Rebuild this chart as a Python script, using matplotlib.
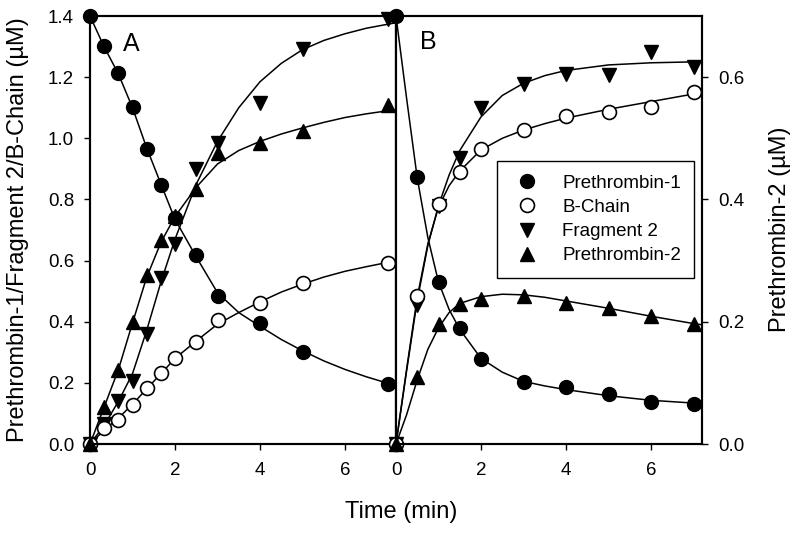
"""
Prethrombin-1 activation time course, panels A and B
"""

import matplotlib

matplotlib.use("Agg")
import matplotlib.pyplot as plt
from matplotlib.lines import Line2D

plt.rcParams["font.family"] = ["Liberation Sans", "DejaVu Sans"]

# ---- Panel A data (left axis, uM; Prethrombin-2 on right axis) ----
t_a = [0, 0.33, 0.67, 1, 1.33, 1.67, 2, 2.5, 3, 4, 5, 7]
p1_a = [1.4, 1.302, 1.215, 1.101, 0.965, 0.847, 0.740, 0.618, 0.484, 0.397, 0.302, 0.196]
bc_a = [0, 0.051, 0.079, 0.128, 0.182, 0.231, 0.282, 0.333, 0.406, 0.462, 0.528, 0.593]
f2_a = [0, 0.065, 0.141, 0.207, 0.359, 0.542, 0.654, 0.899, 0.986, 1.114, 1.291, 1.39]
p2_a = [0, 0.060, 0.121, 0.200, 0.277, 0.334, 0.373, 0.417, 0.476, 0.493, 0.512, 0.555]

# fitted curves, panel A
fit_t_a = [0, 0.33, 0.67, 1, 1.33, 1.67, 2, 2.5, 3, 3.5, 4, 4.5, 5, 5.5, 6, 6.5, 7, 7.2]
fit_p1_a = [1.4, 1.30, 1.21, 1.10, 0.97, 0.85, 0.735, 0.612, 0.495, 0.43, 0.385, 0.342,
            0.305, 0.272, 0.244, 0.22, 0.199, 0.192]
fit_bc_a = [0, 0.045, 0.085, 0.13, 0.18, 0.23, 0.28, 0.337, 0.392, 0.43, 0.465, 0.497,
            0.523, 0.546, 0.565, 0.58, 0.594, 0.60]
fit_f2_a = [0, 0.06, 0.14, 0.23, 0.37, 0.53, 0.67, 0.85, 0.99, 1.10, 1.185, 1.245,
            1.29, 1.32, 1.342, 1.36, 1.373, 1.378]
fit_p2_a = [0, 0.06, 0.122, 0.198, 0.272, 0.33, 0.372, 0.42, 0.458, 0.48, 0.495,
            0.507, 0.517, 0.526, 0.534, 0.54, 0.545, 0.547]

# ---- Panel B data ----
t_b = [0, 0.5, 1, 1.5, 2, 3, 4, 5, 6, 7]
p1_b = [1.4, 0.874, 0.529, 0.378, 0.277, 0.204, 0.188, 0.164, 0.138, 0.130]
bc_b = [0, 0.484, 0.785, 0.891, 0.964, 1.027, 1.073, 1.085, 1.103, 1.152]
f2_b = [0, 0.455, 0.780, 0.934, 1.098, 1.178, 1.210, 1.207, 1.283, 1.234]
p2_b = [0, 0.109, 0.196, 0.229, 0.238, 0.242, 0.231, 0.222, 0.209, 0.196]

fit_t_b = [0, 0.25, 0.5, 0.75, 1, 1.25, 1.5, 2, 2.5, 3, 3.5, 4, 5, 6, 7, 7.2]
fit_p1_b = [1.4, 1.13, 0.87, 0.675, 0.53, 0.44, 0.375, 0.28, 0.235, 0.205, 0.19,
            0.178, 0.158, 0.143, 0.134, 0.132]
fit_bc_b = [0, 0.245, 0.48, 0.655, 0.775, 0.845, 0.893, 0.962, 1.0, 1.027, 1.048,
            1.066, 1.095, 1.12, 1.145, 1.15]
fit_f2_b = [0, 0.24, 0.47, 0.65, 0.78, 0.88, 0.96, 1.07, 1.14, 1.18, 1.205,
            1.222, 1.24, 1.247, 1.25, 1.25]
fit_p2_b = [0, 0.048, 0.105, 0.155, 0.19, 0.215, 0.23, 0.241, 0.245, 0.244, 0.24,
            0.234, 0.222, 0.209, 0.197, 0.195]

labels = ["Prethrombin-1", "B-Chain", "Fragment 2", "Prethrombin-2"]
x_ticks = [0, 2, 4, 6]
left_ticks = [0.0, 0.2, 0.4, 0.6, 0.8, 1.0, 1.2, 1.4]
right_ticks = [0.0, 0.2, 0.4, 0.6]

MS = 10
LW = 1.1
TICK_FS = 13.5


def style_axis(ax):
    for sp in ax.spines.values():
        sp.set_linewidth(1.5)
    ax.tick_params(direction="out", length=4.5, width=1, labelsize=TICK_FS)
    ax.tick_params(axis="x", pad=8.5)
    ax.tick_params(axis="y", pad=7)


def draw_panel(ax, ax2, t, p1, bc, f2, p2, ft, fp1, fbc, ff2, fp2):
    # fitted curves
    ax.plot(ft, fp1, color="black", lw=LW, clip_on=False)
    ax.plot(ft, fbc, color="black", lw=LW, clip_on=False)
    ax.plot(ft, ff2, color="black", lw=LW, clip_on=False)
    ax2.plot(ft, fp2, color="black", lw=LW, clip_on=False)

    # measured points
    ax.plot(t, f2, "v", color="black", ms=MS, clip_on=False, zorder=3)
    ax2.plot(t, p2, "^", color="black", ms=MS, clip_on=False, zorder=3)
    ax.plot(t, bc, "o", mfc="white", mec="black", mew=1.2, ms=MS, clip_on=False, zorder=3)
    ax.plot(t, p1, "o", color="black", ms=MS, clip_on=False, zorder=3)

    ax.set_xlim(0, 7.2)
    ax.set_ylim(0, 1.4)
    ax2.set_ylim(0, 0.7)
    ax.set_xticks(x_ticks)


fig = plt.figure(figsize=(8, 5.34), dpi=100)

ax_a = fig.add_axes([0.1125, 0.1685, 0.3825, 0.8015])
ax_a2 = ax_a.twinx()
ax_b = fig.add_axes([0.495, 0.1685, 0.3825, 0.8015])
ax_b2 = ax_b.twinx()

draw_panel(ax_a, ax_a2, t_a, p1_a, bc_a, f2_a, p2_a,
           fit_t_a, fit_p1_a, fit_bc_a, fit_f2_a, fit_p2_a)
draw_panel(ax_b, ax_b2, t_b, p1_b, bc_b, f2_b, p2_b,
           fit_t_b, fit_p1_b, fit_bc_b, fit_f2_b, fit_p2_b)

for ax in (ax_a, ax_a2, ax_b, ax_b2):
    style_axis(ax)

ax_a.set_yticks(left_ticks)
ax_a.set_yticklabels([f"{v:.1f}" for v in left_ticks])
ax_a2.set_yticks([])
ax_b.set_yticks([])
ax_b2.set_yticks(right_ticks)
ax_b2.set_yticklabels([f"{v:.1f}" for v in right_ticks])

ax_a.text(0.135, 0.935, "A", transform=ax_a.transAxes, fontsize=18, ha="center", va="center")
ax_b.text(0.105, 0.94, "B", transform=ax_b.transAxes, fontsize=18, ha="center", va="center")

handles = [
    Line2D([], [], ls="none", marker="o", color="black", ms=MS),
    Line2D([], [], ls="none", marker="o", mfc="white", mec="black", mew=1.2, ms=MS),
    Line2D([], [], ls="none", marker="v", color="black", ms=MS),
    Line2D([], [], ls="none", marker="^", color="black", ms=MS),
]
leg = ax_b2.legend(handles, labels, loc="upper left", bbox_to_anchor=(0.33, 0.661),
                   borderaxespad=0, fontsize=13.5, frameon=True, fancybox=False,
                   framealpha=1, edgecolor="black", handlelength=1.8,
                   handletextpad=0.95, borderpad=0.72, labelspacing=0.38)
leg.get_frame().set_linewidth(1.0)

fig.text(0.022, 0.57, "Prethrombin-1/Fragment 2/B-Chain (\u00b5M)", rotation=90,
         ha="center", va="center", fontsize=17)
fig.text(0.975, 0.57, "Prethrombin-2 (\u00b5M)", rotation=90,
         ha="center", va="center", fontsize=17)
fig.text(0.501, 0.041, "Time (min)", ha="center", va="center", fontsize=17)

fig.savefig("out.png", dpi=100)
